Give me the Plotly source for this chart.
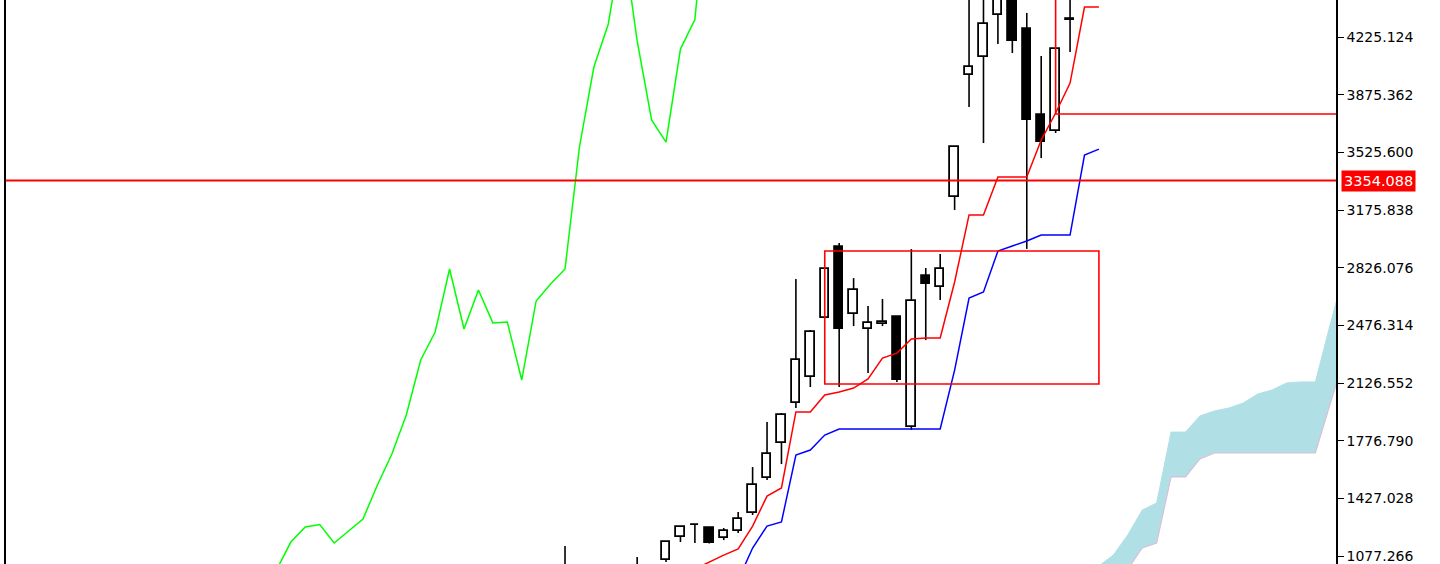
import plotly.graph_objects as go

# ---------------- data ----------------
bar_idx = list(range(-7, 31))
opens = [960, 985, 960, 975, 1000, 970, 1010,
         1053, 1193, 1265, 1247, 1187, 1229, 1338, 1550, 1763, 2005,
         2163, 2521, 2951, 2545, 2454, 2484, 2527, 1860, 2776, 2709,
         3255, 3995, 4104, 4359, 4700, 4274, 3752, 3655, 4334, 4500, 5250]
highs = [1138, 1010, 1000, 1015, 1020, 1071, 1025,
         1168, 1254, 1271, 1250, 1247, 1344, 1617, 1890, 1945, 2757,
         2448, 2819, 2976, 2763, 2594, 2636, 2530, 2939, 2824, 2909,
         3564, 4520, 4500, 4950, 4900, 4371, 4110, 4155, 4500, 5860, 5500]
lows = [900, 940, 930, 950, 960, 955, 960,
        1041, 1162, 1156, 1153, 1174, 1217, 1326, 1538, 1635, 1975,
        2102, 2520, 2102, 2472, 2187, 2472, 2133, 1842, 2387, 2630,
        3176, 3801, 3582, 4183, 4128, 2940, 3491, 3643, 4134, 4460, 5000]
closes = [985, 960, 975, 1000, 970, 1010, 992,
          1162, 1253, 1268, 1156, 1229, 1302, 1508, 1696, 1933, 2266,
          2436, 2818, 2454, 2691, 2491, 2497, 2145, 2624, 2727, 2818,
          3558, 4043, 4304, 4830, 4201, 3722, 3588, 4152, 4331, 5250, 5300]

tenkan_idx = list(range(2, 31))
tenkan = [998.5, 1041, 1083, 1120, 1259, 1441, 1490, 1951, 1951, 2054,
          2072, 2096, 2151, 2278, 2308, 2394, 2400, 2400, 2739, 3146,
          3146, 3376, 3376, 3376, 3600, 3764, 3946, 4407, 4407]

kijun_idx = list(range(5, 31))
kijun = [932, 1126, 1259, 1284, 1690, 1720, 1811, 1848, 1848, 1848,
         1848, 1848, 1848, 1848, 1848, 2205, 2642, 2678.5, 2927, 2957.5,
         2988, 3024, 3024, 3024, 3509, 3545]

span_idx = list(range(4, 22))
span_a = [1017, 1083, 1205, 1356, 1399, 1829, 1829, 1927, 1957, 1975,
          2005, 2060, 2084, 2127, 2133, 2133, 2472, 2800]
span_b = [880, 932, 998, 1126, 1156, 1557, 1557, 1666, 1702, 1702,
          1702, 1702, 1702, 1702, 1702, 1702, 1993, 2278]

tick_vals = [1077.266, 1427.028, 1776.790, 2126.552, 2476.314,
             2826.076, 3175.838, 3525.600, 3875.362, 4225.124]
tick_text = ["1077.266", "1427.028", "1776.790", "2126.552", "2476.314",
             "2826.076", "3175.838", "3525.600", "3875.362", "4225.124"]

price_level = 3354.088
box_bars = [11, 30]
box_prices = [2120.5, 2927.2]
zone_bar = 27
zone_low = 3758.1

CHIKOU_SHIFT = 26
KUMO_SHIFT = 26

# ---------------- build figure ----------------
fig = go.Figure()

# Kumo (cloud)
kumo_x = [i + KUMO_SHIFT for i in span_idx]
fig.add_trace(go.Scatter(x=kumo_x, y=span_b, mode="lines",
                         line=dict(color="#D8BFD8", width=1.2), hoverinfo="skip"))
fig.add_trace(go.Scatter(x=kumo_x, y=span_a, mode="lines", fill="tonexty",
                         fillcolor="rgb(176,224,230)",
                         line=dict(color="rgb(176,224,230)", width=1), hoverinfo="skip"))

# candle bodies
bases, heights, fills = [], [], []
for o, c in zip(opens, closes):
    lo, hi = min(o, c), max(o, c)
    h = max(hi - lo, 2.5)
    bases.append(lo)
    heights.append(h)
    fills.append("white" if c >= o else "black")
fig.add_trace(go.Bar(x=bar_idx, y=heights, base=bases, width=0.58,
                     marker=dict(color=fills, line=dict(color="black", width=1.8)),
                     hoverinfo="skip"))

# wicks
wx, wy = [], []
for i, o, h, l, c in zip(bar_idx, opens, highs, lows, closes):
    top, bot = max(o, c), min(o, c)
    if h > top:
        wx += [i, i, None]
        wy += [top, h, None]
    if l < bot:
        wx += [i, i, None]
        wy += [bot, l, None]
fig.add_trace(go.Scatter(x=wx, y=wy, mode="lines",
                         line=dict(color="black", width=1.6), hoverinfo="skip"))

# Chikou span (close shifted back)
fig.add_trace(go.Scatter(x=[i - CHIKOU_SHIFT for i in bar_idx], y=closes, mode="lines",
                         line=dict(color="#00FF00", width=1.5), hoverinfo="skip"))
# Kijun
fig.add_trace(go.Scatter(x=kijun_idx, y=kijun, mode="lines",
                         line=dict(color="#0000FF", width=1.5), hoverinfo="skip"))
# Tenkan
fig.add_trace(go.Scatter(x=tenkan_idx, y=tenkan, mode="lines",
                         line=dict(color="#FF0000", width=1.5), hoverinfo="skip"))

# objects
fig.add_shape(type="line", xref="paper", x0=0, x1=1, yref="y",
              y0=price_level, y1=price_level, line=dict(color="#FF0000", width=2))
fig.add_shape(type="rect", xref="x", yref="y", x0=box_bars[0], x1=box_bars[1],
              y0=box_prices[0], y1=box_prices[1], line=dict(color="#FF0000", width=1.6))
fig.add_shape(type="rect", xref="x", yref="y", x0=zone_bar, x1=zone_bar + 40,
              y0=zone_low, y1=zone_low + 2000, line=dict(color="#FF0000", width=1.6))
# left chart border
fig.add_shape(type="line", xref="paper", x0=0, x1=0, yref="paper", y0=0, y1=1,
              line=dict(color="black", width=2))

fig.add_annotation(xref="paper", x=1, xanchor="left", xshift=5, yref="y", y=price_level,
                   text="3354.088", showarrow=False, bgcolor="#FF0000", borderpad=2,
                   font=dict(family="DejaVu Sans", size=14.5, color="white"))

fig.update_layout(
    width=1440, height=564,
    margin=dict(l=5, r=104, t=0, b=0),
    plot_bgcolor="white", paper_bgcolor="white",
    showlegend=False, bargap=0,
    xaxis=dict(range=[-45.81, 46.43], visible=False, showgrid=False, zeroline=False),
    yaxis=dict(range=[1028.9, 4449.5], side="right", tickvals=tick_vals, ticktext=tick_text,
               ticks="outside", ticklen=6, tickwidth=1.2, tickcolor="black",
               showline=True, linecolor="black", linewidth=1.5,
               showgrid=False, zeroline=False,
               tickfont=dict(family="DejaVu Sans", size=14, color="black")),
)

fig.write_html("out.html", config={"displayModeBar": False},
               post_script="document.body.style.margin='0px';document.body.style.overflow='hidden';")
